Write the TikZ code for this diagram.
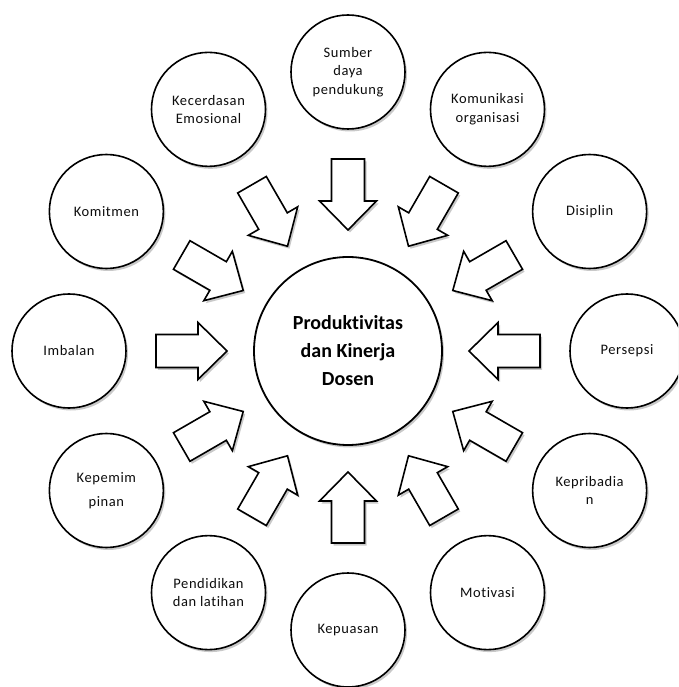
\documentclass[tikz,border=0pt]{standalone}
\usepackage{fontspec}
\setmainfont{Carlito}[Ligatures=NoCommon]
\newfontfamily\outerfont{Carlito}[LetterSpace=4, Ligatures=NoCommon]
\usetikzlibrary{shadows}
\begin{document}
\begin{tikzpicture}[x=1pt,y=1pt,
  softshadow/.style={drop shadow={opacity=0.35, shadow xshift=2pt, shadow yshift=-2.5pt, fill=black!60}},
  bubble/.style={circle, draw=black, line width=1.6pt, fill=white, minimum size=114pt, inner sep=0pt,
    align=center, font=\outerfont\fontsize{14.5}{18.5}\selectfont, text=black!95, softshadow},
  hub/.style={circle, draw=black, line width=1.8pt, fill=white, minimum size=188pt, inner sep=0pt,
    align=center, font=\fontsize{20}{28}\selectfont\bfseries, text=black, softshadow},
  blockarrow/.style={draw=black, line width=1.6pt, fill=white, line join=miter, softshadow}
]
\clip (-348,-336) rectangle (330,351);
\fill[white] (-348,-336) rectangle (330,351);
% arrows
\foreach \a in {0,30,...,330}
  \draw[blockarrow, shift={(\a:121)}, rotate=\a]
    (0,0) -- (29,28.5) -- (29,16.5) -- (71,16.5) -- (71,-16.5) -- (29,-16.5) -- (29,-28.5) -- cycle;
% hub
\node[hub] (hub) at (0,0) {Produktivitas\\dan Kinerja\\Dosen};
% outer circles
\node[bubble] (sumber) at (90:279) {Sumber\\daya\\pendukung};
\node[bubble] (komunikasi) at (60:279) {Komunikasi\\organisasi};
\node[bubble] (disiplin) at (30:279) {Disiplin};
\node[bubble] (persepsi) at (0:279) {Persepsi};
\node[bubble] (kepribadian) at (-30:279) {Kepribadia\\n};
\node[bubble] (motivasi) at (-60:279) {Motivasi};
\node[bubble] (kepuasan) at (-90:279) {Kepuasan};
\node[bubble] (pendidikan) at (-120:279) {Pendidikan\\dan latihan};
\node[bubble] (kepemimpinan) at (-150:279) {Kepemim\\[6pt]pinan};
\node[bubble] (imbalan) at (180:279) {Imbalan};
\node[bubble] (komitmen) at (150:279) {Komitmen};
\node[bubble] (kecerdasan) at (120:279) {Kecerdasan\\Emosional};
\end{tikzpicture}
\end{document}
